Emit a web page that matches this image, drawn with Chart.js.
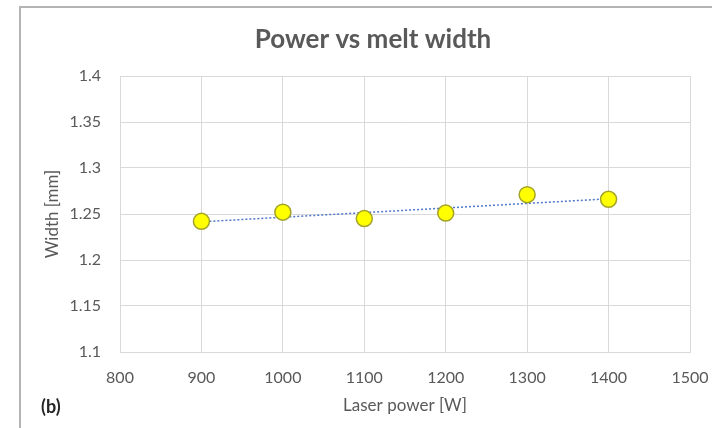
<!DOCTYPE html>
<html>
<head>
<meta charset="utf-8">
<script src="https://cdn.jsdelivr.net/npm/chart.js@4.4.0/dist/chart.umd.min.js"></script>
<style>
  html, body { margin: 0; padding: 0; background: #fff; }
  #wrap { position: relative; width: 712px; height: 428px; overflow: hidden; }
  #frame { position: absolute; left: 19px; top: 6px; width: 720px; height: 440px;
           border-left: 2px solid #b4b4b4; border-top: 2px solid #b4b4b4; }
  canvas { position: absolute; left: 0; top: 0; }
</style>
</head>
<body>
<div id="wrap">
  <div id="frame"></div>
  <canvas id="myChart" width="712" height="428"></canvas>
</div>
<script>
var powers = [900, 1000, 1100, 1200, 1300, 1400];
var widths = [1.242, 1.252, 1.245, 1.251, 1.271, 1.266];
var trendX = [900, 1400];
var trendY = [1.2415, 1.2665];
var yTickLabels = ['1.1', '1.15', '1.2', '1.25', '1.3', '1.35', '1.4'];

var font = "'Lato', 'Open Sans', sans-serif";
var grey = '#595959';

// chart title and the "(b)" panel tag, drawn on the canvas
var extraText = {
    id: 'extraText',
    afterDraw: function (chart) {
        var c = chart.ctx;
        c.save();
        c.textBaseline = 'middle';
        c.textAlign = 'center';
        c.font = 'bold 26px ' + font;
        c.fillStyle = grey;
        c.fillText('Power vs melt width', 373, 40);
        c.textAlign = 'left';
        c.font = 'bold 18px ' + font;
        c.fillStyle = '#262626';
        c.fillText('(b)', 41, 407);
        c.restore();
    }
};

var ctx = document.getElementById('myChart').getContext('2d');
var myChart = new Chart(ctx, {
    type: 'scatter',
    data: {
        datasets: [{
            label: 'Width',
            data: powers.map(function (p, i) { return {x: p, y: widths[i]}; }),
            backgroundColor: '#ffff00',
            borderColor: '#a3a32a',
            borderWidth: 1.5,
            pointRadius: 8,
            order: 1
        }, {
            label: 'Trend',
            type: 'line',
            data: trendX.map(function (p, i) { return {x: p, y: trendY[i]}; }),
            borderColor: '#4f79c8',
            borderWidth: 1.5,
            borderDash: [2, 2],
            pointRadius: 0,
            fill: false,
            order: 2
        }]
    },
    options: {
        responsive: false,
        animation: false,
        layout: { padding: { left: 0, right: 22, top: 76, bottom: 0 } },
        plugins: {
            legend: { display: false },
            tooltip: { enabled: false },
            title: { display: false }
        },
        scales: {
            x: {
                type: 'linear',
                min: 800,
                max: 1500,
                ticks: {
                    stepSize: 100, color: grey, padding: 16, font: { family: font, size: 16 },
                    callback: function (v) { return String(v); }
                },
                grid: { color: '#d9d9d9', drawTicks: false },
                border: { color: '#d9d9d9' },
                title: {
                    display: true,
                    text: 'Laser power [W]',
                    color: grey,
                    font: { family: font, size: 17 },
                    padding: { top: 0, bottom: 12 }
                },
                afterFit: function (scale) {
                    scale.height = 76;
                    scale.paddingLeft = 0;
                    scale.paddingRight = 0;
                }
            },
            y: {
                min: 1.1,
                max: 1.4,
                ticks: {
                    stepSize: 0.05, color: grey, padding: 19, font: { family: font, size: 16 },
                    callback: function (v, i) { return yTickLabels[i]; }
                },
                grid: { color: '#d9d9d9', drawTicks: false },
                border: { color: '#d9d9d9' },
                title: {
                    display: true,
                    text: 'Width [mm]',
                    color: grey,
                    font: { family: font, size: 17 },
                    padding: { top: 42, bottom: 0 }
                },
                afterFit: function (scale) { scale.width = 120; }
            }
        }
    },
    plugins: [extraText]
});
</script>
</body>
</html>
